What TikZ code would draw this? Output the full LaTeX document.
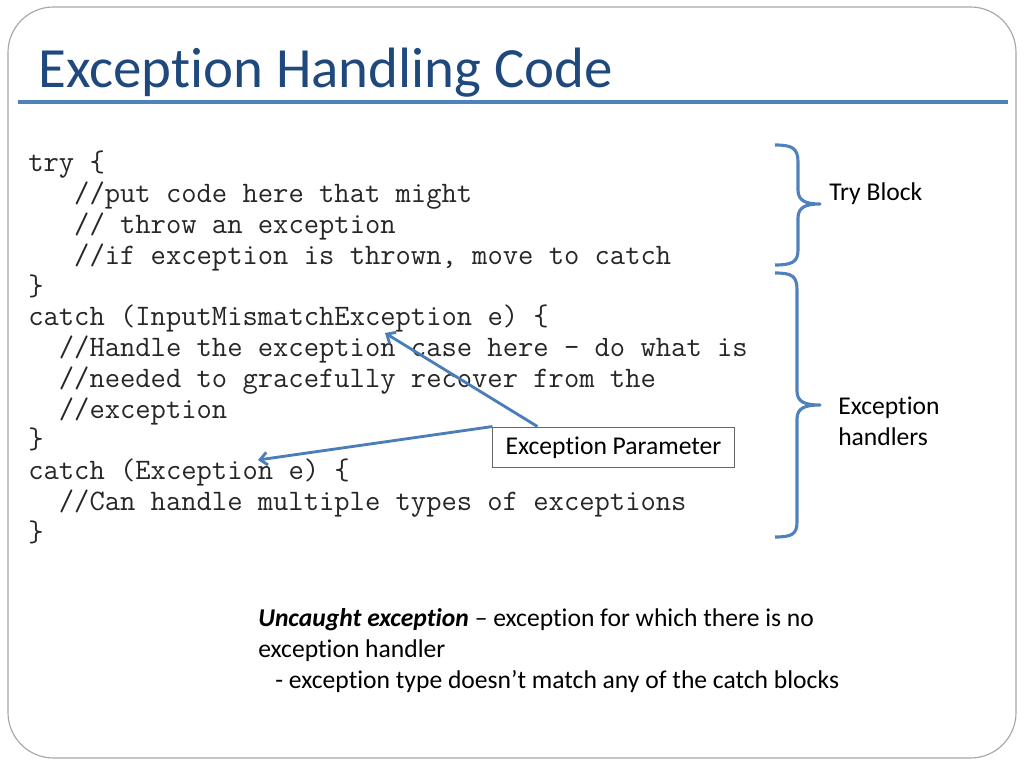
\documentclass[tikz,border=0pt]{standalone}
\usepackage{fontspec}
\setmainfont{Carlito}[Ligatures=NoCommon]
\usetikzlibrary{arrows.meta,calc,positioning}
\definecolor{titleblue}{HTML}{1F497D}
\definecolor{ruleblue}{HTML}{4F81BD}
\definecolor{linkblue}{HTML}{4A7EBB}
\tikzset{
  codeline/.style={anchor=base west,inner sep=0pt,text=black!85,font=\ttfamily\fontsize{20.9}{21.6}\selectfont},
  note/.style={inner sep=0pt,font=\fontsize{18}{21.8}\selectfont,align=left},
  bracestroke/.style={draw=ruleblue,line width=2.2pt,line join=round},
  pointer/.style={draw=linkblue,line width=2pt,-{Straight Barb[length=5pt,width=9pt]}},
}
\begin{document}
\begin{tikzpicture}[x=0.703125pt,y=-0.703125pt]
\useasboundingbox (0,0) rectangle (1024,768);
\draw[gray!70,line width=0.8pt,rounded corners=32pt] (8,7) rectangle (1016,758); %边框
\node[anchor=base west,inner sep=0pt,text=titleblue,font=\fontsize{40}{48}\selectfont] (title) at (38,88) {Exception Handling Code};
\draw[ruleblue,line width=2.2pt] (18,102) -- (1008,102); %标题下的横线
\foreach \i/\txt in {1/{try \{},2/{~~~//put code here that might},3/{~~~// throw an exception},
  4/{~~~//if exception is thrown, move to catch},5/{\}},6/{catch (InputMismatchException e) \{},
  7/{~~//Handle the exception case here – do what is},8/{~~//needed to gracefully recover from the},
  9/{~~//exception},10/{\}},11/{catch (Exception e) \{},12/{~~//Can handle multiple types of exceptions},13/{\}}}
  \node[codeline] (code-\i) at (28,{172+30.75*(\i-1)}) {\txt};
% 右侧的大括号
\draw[bracestroke] (775,145) .. controls (792,145) and (798,148) .. (798,162) -- (798,190)
  .. controls (798,201) and (806,204) .. (820,204) .. controls (806,204) and (798,207) .. (798,218)
  -- (798,250) .. controls (798,262) and (792,265) .. (775,265);
\draw[bracestroke] (775,273) .. controls (792,273) and (797,276) .. (797,290) -- (797,391)
  .. controls (797,402) and (805,405) .. (820,405) .. controls (805,405) and (797,408) .. (797,419)
  -- (797,522) .. controls (797,534) and (792,537) .. (775,537);
\node[note,anchor=base west] (trylbl) at (829,201) {Try Block};
\node[note,anchor=west] (handlerlbl) at (838,421) {Exception\\handlers};
\node[draw=gray!80!black,line width=0.7pt,font=\fontsize{18}{21.6}\selectfont,minimum width=169.5pt,minimum height=28.8pt,inner sep=0pt] (param) at (613.5,447.5) {Exception Parameter};
\coordinate (imeparam) at (385,333); %参数所在的位置
\coordinate (exparam) at (258,460);
\draw[pointer] ($(param.north west)+(45,0)$) -- (imeparam);
\draw[pointer] (param.north west) -- (exparam);
\node[note,anchor=north west] (uncaught) at (258,608) {\textbf{\textit{Uncaught exception}} – exception for which there is no\\exception handler\\\hspace*{12pt}- exception type doesn’t match any of the catch blocks};
\end{tikzpicture}
\end{document}
